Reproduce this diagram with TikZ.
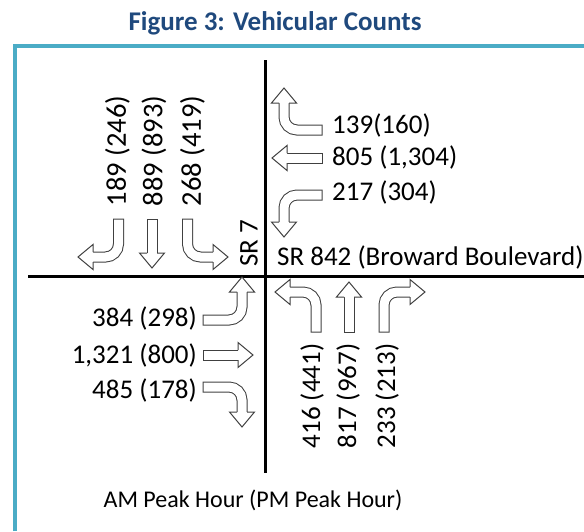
\documentclass[tikz,border=0pt]{standalone}
\usepackage{fontspec}
\setmainfont{Carlito}
\definecolor{titleblue}{HTML}{1F497D}
\definecolor{framecyan}{HTML}{4BACC6}
\tikzset{
  blockhead/.pic={
    \fill[white] (-15,-12.5) -- (0,0) -- (-15,12.5) -- cycle;
    \draw[arrline] (-15,5) -- (-15,12.5) -- (0,0) -- (-15,-12.5) -- (-15,-5);
  }
}
\begin{document}
\begin{tikzpicture}[x=1pt, y=-1pt, every node/.style={font=\fontsize{27}{29}\selectfont, inner sep=0pt},
  road/.style={line width=3pt},
  arrline/.style={draw=black!75, line width=1pt, line join=miter},
  shaft/.style={double=white, draw=black!75, line width=1pt, double distance=9pt, line cap=rect, rounded corners=13pt},
  vcount/.style={rotate=90}]
\useasboundingbox (0,0) rectangle (584,531);
\node[font=\bfseries\fontsize{27}{30}\selectfont, text=titleblue] (title) at (275,23) {Figure 3: Vehicular Counts};
\draw[framecyan, line width=4pt] (15,531) -- (15,46) -- (584,46);
\draw[road] (265,60) -- (265,473);
\draw[road] (28,276) -- (584,276);
% southbound
\draw[shaft] (118.5,224) -- (118.5,257) -- (93,257);
\pic[rotate=180] at (78,257) {blockhead};
\draw[shaft] (152,224) -- (152,253);
\pic[rotate=-90] at (152,268) {blockhead};
\draw[shaft] (187.5,224) -- (187.5,257) -- (213,257);
\pic at (228,257) {blockhead};
% westbound
\draw[shaft] (317,130) -- (284,130) -- (284,103);
\pic[rotate=90] at (284,88) {blockhead};
\draw[shaft] (317,158) -- (287,158);
\pic[rotate=180] at (272,158) {blockhead};
\draw[shaft] (317,195) -- (284,195) -- (284,222);
\pic[rotate=-90] at (284,237) {blockhead};
% eastbound
\draw[shaft] (208,320) -- (242,320) -- (242,292);
\pic[rotate=90] at (242,277) {blockhead};
\draw[shaft] (208,355) -- (238,355);
\pic at (253,355) {blockhead};
\draw[shaft] (208,387) -- (242,387) -- (242,412);
\pic[rotate=-90] at (242,427) {blockhead};
% northbound
\draw[shaft] (316,327) -- (316,292) -- (290,292);
\pic[rotate=180] at (275,292) {blockhead};
\draw[shaft] (349,327) -- (349,297);
\pic[rotate=90] at (349,282) {blockhead};
\draw[shaft] (384,327) -- (384,292) -- (410,292);
\pic at (425,292) {blockhead};
% counts
\node[vcount, font=\fontsize{28.5}{30}\selectfont] (sr) at (117.5,151) {189 (246)};
\node[vcount, font=\fontsize{28.5}{30}\selectfont] (st) at (154,151) {889 (893)};
\node[vcount, font=\fontsize{28.5}{30}\selectfont] (sl) at (192.5,151) {268 (419)};
\node[anchor=west] (wl) at (332,125) {139(160)};
\node[anchor=west] (wt) at (332,157) {805 (1,304)};
\node[anchor=west] (wr) at (332,192) {217 (304)};
\node[anchor=east] (el) at (197,318) {384 (298)};
\node[anchor=east] (et) at (197,355) {1,321 (800)};
\node[anchor=east] (er) at (197,390) {485 (178)};
\node[vcount] (nl) at (312,396) {416 (441)};
\node[vcount] (nt) at (348,396) {817 (967)};
\node[vcount] (nr) at (387,396) {233 (213)};
\node[vcount] (sr7) at (249,243) {SR 7};
\node[anchor=west] (sr842) at (277,257) {SR 842 (Broward Boulevard)};
\node[font=\fontsize{24}{26}\selectfont] (note) at (253,500) {AM Peak Hour (PM Peak Hour)};
\end{tikzpicture}
\end{document}
